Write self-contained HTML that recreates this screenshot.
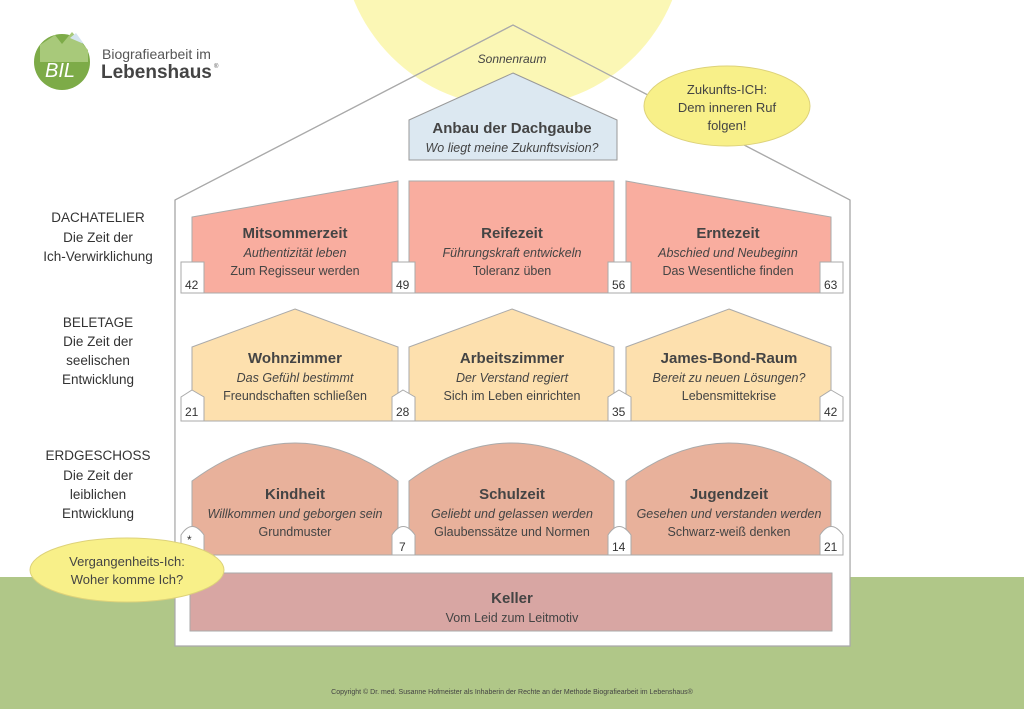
<!DOCTYPE html>
<html><head><meta charset="utf-8"><style>
html,body{margin:0;padding:0;background:#fff}
svg{display:block}
text{font-family:"Liberation Sans","DejaVu Sans",sans-serif;fill:#444}
.t{font-size:15px;font-weight:bold;text-anchor:middle}
.i{font-size:12.5px;font-style:italic;text-anchor:middle}
.n{font-size:12.5px;text-anchor:middle}
.l{font-size:13.5px;text-anchor:middle;fill:#333}
.num{font-size:12px;fill:#333}
</style></head><body>
<svg width="1024" height="709" viewBox="0 0 1024 709" xmlns="http://www.w3.org/2000/svg">
<rect x="0" y="577" width="1024" height="132" fill="#b0c788"/>
<circle cx="513" cy="-65" r="172" fill="#fbf7b5"/>
<!-- house -->
<polygon points="513,25 850,200 850,646 175,646 175,200" fill="#fff" fill-opacity="0.0" stroke="#aaa" stroke-width="1.2"/>
<polygon points="175,578 850,578 850,646 175,646" fill="#fff"/>
<polygon points="175,300 850,300 850,578 175,578" fill="#fff"/>
<polygon points="175,200 513,25 850,200 850,300 175,300" fill="#fff" fill-opacity="0"/>
<path d="M175,200 L175,646 L850,646 L850,200" fill="none" stroke="#aaa" stroke-width="1.2"/>
<path d="M175,200 L513,25 L850,200" fill="none" stroke="#aaa" stroke-width="1.2"/>
<rect x="176" y="201" width="673" height="444" fill="#fff"/>
<polygon points="176,201 513,26 849,201" fill="#fff" fill-opacity="0"/>
<text x="512" y="63" class="i" style="font-size:12px">Sonnenraum</text>
<!-- Dachgaube -->
<polygon points="513,73 617,120 617,160 409,160 409,120" fill="#dce8f1" stroke="#999" stroke-width="1"/>
<text x="512" y="133" class="t">Anbau der Dachgaube</text>
<text x="512" y="152" class="i">Wo liegt meine Zukunftsvision?</text>
<!-- Zukunft ellipse -->
<ellipse cx="727" cy="106" rx="83" ry="40" fill="#f8f089" stroke="#ddd27a"/>
<text x="727" y="94" class="n" style="font-size:13px">Zukunfts-ICH:</text>
<text x="727" y="112" class="n" style="font-size:13px">Dem inneren Ruf</text>
<text x="727" y="130" class="n" style="font-size:13px">folgen!</text>
<!-- logo -->
<circle cx="62" cy="62" r="28" fill="#7dab48"/>
<polygon points="40,45 55,35 62,44 72,32 88,50 88,62 40,62" fill="#a8c97a"/>
<polygon points="70,38 76,33 84,44" fill="#d4e4ef"/>
<text x="45" y="77" style="font-size:20px;font-style:italic;fill:#fff">BIL</text>
<text x="102" y="59" style="font-size:14px;fill:#555">Biografiearbeit im</text>
<text x="101" y="78" style="font-size:19px;font-weight:bold;fill:#444">Lebenshaus</text>
<text x="214" y="68" style="font-size:6px;fill:#555">®</text>
<!-- left labels -->
<text x="98" y="222" class="l">DACHATELIER</text>
<text x="98" y="242" class="l">Die Zeit der</text>
<text x="98" y="261" class="l">Ich-Verwirklichung</text>
<text x="98" y="327" class="l">BELETAGE</text>
<text x="98" y="346" class="l">Die Zeit der</text>
<text x="98" y="365" class="l">seelischen</text>
<text x="98" y="384" class="l">Entwicklung</text>
<text x="98" y="460" class="l">ERDGESCHOSS</text>
<text x="98" y="480" class="l">Die Zeit der</text>
<text x="98" y="499" class="l">leiblichen</text>
<text x="98" y="518" class="l">Entwicklung</text>
<!-- Row 1 -->
<g fill="#f9ad9f" stroke="#aaa" stroke-width="1">
<polygon points="192,217 398,181 398,293 192,293"/>
<rect x="409" y="181" width="205" height="112"/>
<polygon points="626,181 831,217 831,293 626,293"/>
</g>
<text x="295" y="238" class="t">Mitsommerzeit</text>
<text x="295" y="257" class="i">Authentizität leben</text>
<text x="295" y="275" class="n">Zum Regisseur werden</text>
<text x="512" y="238" class="t">Reifezeit</text>
<text x="512" y="257" class="i">Führungskraft entwickeln</text>
<text x="512" y="275" class="n">Toleranz üben</text>
<text x="728" y="238" class="t">Erntezeit</text>
<text x="728" y="257" class="i">Abschied und Neubeginn</text>
<text x="728" y="275" class="n">Das Wesentliche finden</text>
<g fill="#fff" stroke="#aaa" stroke-width="1">
<rect x="181" y="262" width="23" height="31"/>
<rect x="392" y="262" width="23" height="31"/>
<rect x="608" y="262" width="23" height="31"/>
<rect x="820" y="262" width="23" height="31"/>
</g>
<text x="185" y="289" class="num">42</text>
<text x="396" y="289" class="num">49</text>
<text x="612" y="289" class="num">56</text>
<text x="824" y="289" class="num">63</text>
<!-- Row 2 -->
<g fill="#fde0ae" stroke="#aaa" stroke-width="1">
<polygon points="295,309 398,347 398,421 192,421 192,347"/>
<polygon points="512,309 614,347 614,421 409,421 409,347"/>
<polygon points="729,309 831,347 831,421 626,421 626,347"/>
</g>
<text x="295" y="363" class="t">Wohnzimmer</text>
<text x="295" y="382" class="i">Das Gefühl bestimmt</text>
<text x="295" y="400" class="n">Freundschaften schließen</text>
<text x="512" y="363" class="t">Arbeitszimmer</text>
<text x="512" y="382" class="i">Der Verstand regiert</text>
<text x="512" y="400" class="n">Sich im Leben einrichten</text>
<text x="729" y="363" class="t">James-Bond-Raum</text>
<text x="729" y="382" class="i">Bereit zu neuen Lösungen?</text>
<text x="729" y="400" class="n">Lebensmittekrise</text>
<g fill="#fff" stroke="#aaa" stroke-width="1">
<polygon points="192,390 204,397 204,421 181,421 181,397"/>
<polygon points="403,390 415,397 415,421 392,421 392,397"/>
<polygon points="619,390 631,397 631,421 608,421 608,397"/>
<polygon points="831,390 843,397 843,421 820,421 820,397"/>
</g>
<text x="185" y="416" class="num">21</text>
<text x="396" y="416" class="num">28</text>
<text x="612" y="416" class="num">35</text>
<text x="824" y="416" class="num">42</text>
<!-- Row 3 -->
<g fill="#e8b19b" stroke="#aaa" stroke-width="1">
<path d="M192,481 Q295,405 398,481 L398,555 L192,555 Z"/>
<path d="M409,481 Q512,405 614,481 L614,555 L409,555 Z"/>
<path d="M626,481 Q729,405 831,481 L831,555 L626,555 Z"/>
</g>
<text x="295" y="499" class="t">Kindheit</text>
<text x="295" y="518" class="i">Willkommen und geborgen sein</text>
<text x="295" y="536" class="n">Grundmuster</text>
<text x="512" y="499" class="t">Schulzeit</text>
<text x="512" y="518" class="i">Geliebt und gelassen werden</text>
<text x="512" y="536" class="n">Glaubenssätze und Normen</text>
<text x="729" y="499" class="t">Jugendzeit</text>
<text x="729" y="518" class="i">Gesehen und verstanden werden</text>
<text x="729" y="536" class="n">Schwarz-weiß denken</text>
<g fill="#fff" stroke="#aaa" stroke-width="1">
<path d="M181,555 L181,535 Q192,518 204,535 L204,555 Z"/>
<path d="M392,555 L392,535 Q403,518 415,535 L415,555 Z"/>
<path d="M608,555 L608,535 Q619,518 631,535 L631,555 Z"/>
<path d="M820,555 L820,535 Q831,518 843,535 L843,555 Z"/>
</g>
<text x="187" y="544" class="num">*</text>
<text x="399" y="551" class="num">7</text>
<text x="612" y="551" class="num">14</text>
<text x="824" y="551" class="num">21</text>
<!-- Keller -->
<rect x="190" y="573" width="642" height="58" fill="#d8a6a3" stroke="#aaa" stroke-width="1"/>
<text x="512" y="603" class="t">Keller</text>
<text x="512" y="622" class="n">Vom Leid zum Leitmotiv</text>
<!-- Vergangenheit ellipse -->
<ellipse cx="127" cy="570" rx="97" ry="32" fill="#f8f089" stroke="#ddd27a"/>
<text x="127" y="566" class="n" style="font-size:13px">Vergangenheits-Ich:</text>
<text x="127" y="584" class="n" style="font-size:13px">Woher komme Ich?</text>
<text x="512" y="694" style="font-size:7px;text-anchor:middle;fill:#444">Copyright ©  Dr. med. Susanne Hofmeister als Inhaberin der Rechte an der Methode Biografiearbeit im Lebenshaus®</text>
</svg>
</body></html>
